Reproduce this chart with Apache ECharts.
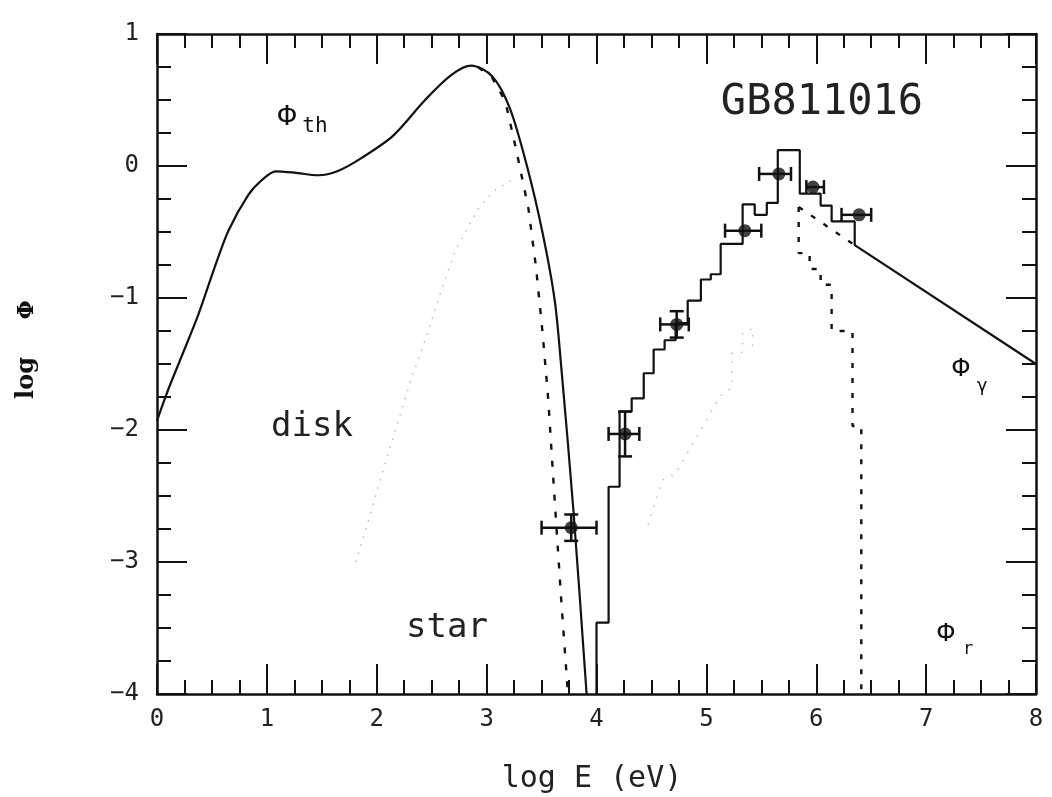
<!DOCTYPE html>
<html>
<head>
<meta charset="utf-8">
<title>GB811016</title>
<script src="https://cdn.jsdelivr.net/npm/echarts@6/dist/echarts.min.js"></script>
<style>
  html, body { margin: 0; padding: 0; background: #fff; }
  #chart { width: 1052px; height: 797px; }
</style>
</head>
<body>
<div id="chart"></div>
<script>
// axis ticks
const xTicks = [0, 1, 2, 3, 4, 5, 6, 7, 8]
const yTicks = [-4, -3, -2, -1, 0, 1]

// Φth, thermal spectrum (solid) — [log E, log Φ]
const thermal = [
  [0.00, -1.93], [0.09, -1.72], [0.23, -1.43], [0.37, -1.14], [0.52, -0.78],
  [0.65, -0.49], [0.83, -0.22], [0.95, -0.11], [1.08, -0.04], [1.25, -0.05],
  [1.47, -0.07], [1.64, -0.04], [1.86, 0.06], [2.15, 0.23], [2.44, 0.50],
  [2.68, 0.69], [2.86, 0.76], [3.05, 0.68], [3.21, 0.44], [3.37, -0.01],
  [3.51, -0.51], [3.62, -1.02], [3.68, -1.53], [3.79, -2.61], [3.91, -4.00]
]
// star component (dotted)
const star = [
  [2.92, 0.75], [3.05, 0.67], [3.17, 0.49], [3.27, 0.12], [3.38, -0.32],
  [3.45, -0.77], [3.51, -1.27], [3.56, -1.76], [3.62, -2.54], [3.68, -3.30],
  [3.73, -3.88], [3.74, -4.00]
]
// disk component (faint dotted)
const disk = [
  [1.81, -3.00], [1.89, -2.78], [2.10, -2.19], [2.30, -1.65], [2.44, -1.32],
  [2.58, -0.96], [2.72, -0.63], [2.92, -0.33], [3.05, -0.20], [3.22, -0.11]
]
// faint component in the gamma range
const gammaFaint = [
  [4.47, -2.72], [4.60, -2.38], [4.72, -2.33], [5.13, -1.74], [5.23, -1.68],
  [5.23, -1.42], [5.33, -1.41], [5.33, -1.27], [5.42, -1.23], [5.42, -1.40]
]

// Φγ histogram (solid): bin edges and levels
const gammaEdges = [4.00, 4.11, 4.21, 4.32, 4.43, 4.52, 4.62, 4.72, 4.83, 4.95,
  5.04, 5.13, 5.33, 5.44, 5.55, 5.65, 5.85, 6.04, 6.14, 6.35]
const gammaLevels = [-3.46, -2.43, -1.86, -1.76, -1.57, -1.39, -1.32, -1.19, -1.02,
  -0.86, -0.82, -0.59, -0.29, -0.37, -0.28, 0.12, -0.21, -0.30, -0.42]
// power-law tail
const tailX = [5.84, 6.35, 8.00]
const tailY = [-0.31, -0.60, -1.50]

// Φr histogram (dotted)
const reflEdges = [5.84, 5.94, 6.04, 6.14, 6.33, 6.41]
const reflLevels = [-0.66, -0.78, -0.90, -1.25, -1.97]

// measured points: log E, log Φ, E range, Φ error
const ptX = [3.77, 4.26, 4.73, 5.35, 5.66, 5.97, 6.39]
const ptY = [-2.74, -2.03, -1.20, -0.49, -0.06, -0.16, -0.37]
const ptXlo = [3.50, 4.11, 4.58, 5.17, 5.48, 5.91, 6.23]
const ptXhi = [4.00, 4.39, 4.84, 5.50, 5.77, 6.07, 6.50]
const ptYerr = [0.10, 0.17, 0.10, 0, 0, 0, 0]

function stepPath(edges, levels, startY, endY) {
  const pts = [[edges[0], startY]]
  levels.forEach((lv, i) => {
    pts.push([edges[i], lv], [edges[i + 1], lv])
  })
  pts.push([edges[edges.length - 1], endY])
  return pts
}

const gammaPath = stepPath(gammaEdges, gammaLevels, -4, tailY[1])
gammaPath.push([tailX[2], tailY[2]])
const reflPath = stepPath(reflEdges, reflLevels, tailY[0], -4)
const tailDotted = [[tailX[0], tailY[0]], [tailX[1], tailY[1]]]

const points = ptX.map((x, i) => [x, ptY[i], ptXlo[i], ptXhi[i], ptYerr[i]])

const INK = '#111'
const mono = '"DejaVu Sans Mono", monospace'

function axisCommon(showLabel) {
  return {
    axisLine: { show: true, onZero: false, lineStyle: { color: INK, width: 2.5 } },
    axisTick: { show: true, inside: true, length: 30, lineStyle: { color: INK, width: 2 } },
    minorTick: { show: true, splitNumber: 4, length: 14, lineStyle: { color: INK, width: 2 } },
    splitLine: { show: false },
    minorSplitLine: { show: false },
    axisLabel: {
      show: showLabel,
      color: '#222',
      fontFamily: mono,
      fontSize: 24
    }
  }
}

function renderErr(params, api) {
  const x = api.value(0), y = api.value(1)
  const c = api.coord([x, y])
  const l = api.coord([api.value(2), y])
  const r = api.coord([api.value(3), y])
  const e = api.value(4)
  const style = { stroke: INK, lineWidth: 2.5 }
  const cap = 7
  const kids = [
    { type: 'line', shape: { x1: l[0], y1: c[1], x2: r[0], y2: c[1] }, style },
    { type: 'line', shape: { x1: l[0], y1: c[1] - cap, x2: l[0], y2: c[1] + cap }, style },
    { type: 'line', shape: { x1: r[0], y1: c[1] - cap, x2: r[0], y2: c[1] + cap }, style }
  ]
  if (e > 0) {
    const t = api.coord([x, y + e])
    const b = api.coord([x, y - e])
    kids.push(
      { type: 'line', shape: { x1: c[0], y1: t[1], x2: c[0], y2: b[1] }, style },
      { type: 'line', shape: { x1: c[0] - cap, y1: t[1], x2: c[0] + cap, y2: t[1] }, style },
      { type: 'line', shape: { x1: c[0] - cap, y1: b[1], x2: c[0] + cap, y2: b[1] }, style }
    )
  }
  return { type: 'group', children: kids }
}

function lineSeries(data, color, width, type, smooth) {
  return {
    type: 'line',
    data,
    smooth: smooth || false,
    showSymbol: false,
    symbol: 'none',
    silent: true,
    lineStyle: { color, width, type },
    z: 3
  }
}

const chart = echarts.init(document.getElementById('chart'), null, { renderer: 'canvas' })

chart.setOption({
  backgroundColor: '#fff',
  animation: false,
  grid: { left: 157, right: 16, top: 34, bottom: 103 },
  xAxis: [
    Object.assign({
      type: 'value', min: xTicks[0], max: xTicks[xTicks.length - 1], interval: 1,
      position: 'bottom'
    }, axisCommon(true), {
      axisLabel: { show: true, color: '#222', fontFamily: mono, fontSize: 24, margin: 14 }
    }),
    Object.assign({
      type: 'value', min: xTicks[0], max: xTicks[xTicks.length - 1], interval: 1,
      position: 'top'
    }, axisCommon(false))
  ],
  yAxis: [
    Object.assign({
      type: 'value', min: yTicks[0], max: yTicks[yTicks.length - 1], interval: 1,
      position: 'left'
    }, axisCommon(true), {
      axisLabel: {
        show: true, color: '#222', fontFamily: mono, fontSize: 24, margin: 18,
        formatter: (v) => (v < 0 ? '\u2212' + Math.abs(v) : String(v))
      }
    }),
    Object.assign({
      type: 'value', min: yTicks[0], max: yTicks[yTicks.length - 1], interval: 1,
      position: 'right'
    }, axisCommon(false))
  ],
  series: [
    lineSeries(disk, '#b8b8b8', 1.4, [1.5, 7]),
    lineSeries(gammaFaint, '#b8b8b8', 1.4, [1.5, 8]),
    lineSeries(thermal, INK, 2.2, 'solid', 0.3),
    lineSeries(star, INK, 2.4, [6, 11]),
    lineSeries(gammaPath, INK, 2.2, 'solid'),
    lineSeries(reflPath, INK, 2.4, [5, 10]),
    lineSeries(tailDotted, INK, 2.4, [5, 10]),
    {
      type: 'custom',
      renderItem: renderErr,
      data: points,
      encode: { x: 0, y: 1 },
      silent: true,
      z: 5
    },
    {
      type: 'scatter',
      data: points.map((p) => [p[0], p[1]]),
      symbol: 'circle',
      symbolSize: 13,
      itemStyle: { color: INK },
      silent: true,
      z: 6
    }
  ],
  graphic: [
    { type: 'text', x: 822, y: 103, style: { text: 'GB811016', fill: '#222', font: '42px "DejaVu Sans Mono"', align: 'center', verticalAlign: 'middle' } },
    { type: 'text', x: 287, y: 117, style: { text: '\u03a6', fill: INK, font: '30px "Liberation Mono"', align: 'center', verticalAlign: 'middle' } },
    { type: 'text', x: 315, y: 127, style: { text: 'th', fill: INK, font: '21px "DejaVu Sans Mono"', align: 'center', verticalAlign: 'middle' } },
    { type: 'text', x: 312, y: 427, style: { text: 'disk', fill: '#222', font: '34px "DejaVu Sans Mono"', align: 'center', verticalAlign: 'middle' } },
    { type: 'text', x: 447, y: 628, style: { text: 'star', fill: '#222', font: '34px "DejaVu Sans Mono"', align: 'center', verticalAlign: 'middle' } },
    { type: 'text', x: 961, y: 369, style: { text: '\u03a6', fill: INK, font: '28px "Liberation Mono"', align: 'center', verticalAlign: 'middle' } },
    { type: 'text', x: 982, y: 386, style: { text: '\u03b3', fill: INK, font: '18px "DejaVu Sans"', align: 'center', verticalAlign: 'middle' } },
    { type: 'text', x: 946, y: 634, style: { text: '\u03a6', fill: INK, font: '28px "Liberation Mono"', align: 'center', verticalAlign: 'middle' } },
    { type: 'text', x: 968, y: 650, style: { text: 'r', fill: INK, font: '17px "DejaVu Sans Mono"', align: 'center', verticalAlign: 'middle' } },
    { type: 'text', x: 592, y: 779, style: { text: 'log E (eV)', fill: '#222', font: '30px "DejaVu Sans Mono"', align: 'center', verticalAlign: 'middle' } },
    { type: 'text', x: 27, y: 378, rotation: Math.PI / 2, style: { text: 'log', fill: INK, font: 'bold 24px "DejaVu Serif"', align: 'center', verticalAlign: 'middle' } },
    { type: 'text', x: 27, y: 310, rotation: Math.PI / 2, style: { text: '\u03a6', fill: INK, font: 'bold 22px "DejaVu Serif"', align: 'center', verticalAlign: 'middle' } }
  ]
})
</script>
</body>
</html>
